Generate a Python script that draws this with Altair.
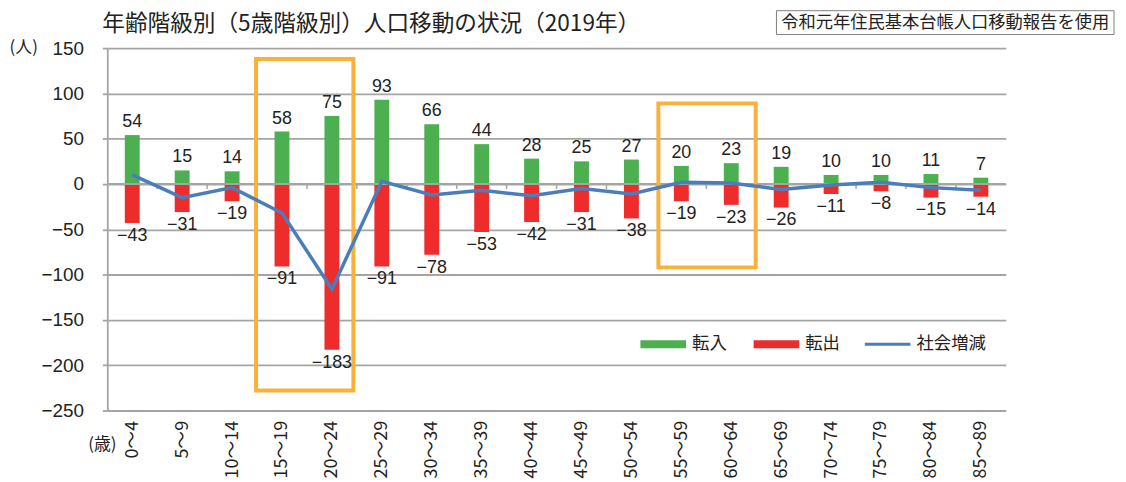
import altair as alt
import pandas as pd

# ---------------- data ----------------
categories = ["0～4", "5～9", "10～14", "15～19", "20～24", "25～29", "30～34", "35～39",
              "40～44", "45～49", "50～54", "55～59", "60～64", "65～69", "70～74",
              "75～79", "80～84", "85～89"]
moved_in = [54, 15, 14, 58, 75, 93, 66, 44, 28, 25, 27, 20, 23, 19, 10, 10, 11, 7]
moved_out = [-43, -31, -19, -91, -183, -91, -78, -53, -42, -31, -38, -19, -23, -26,
             -11, -8, -15, -14]
net_change = [10, -15, -4, -32, -116, 3, -12, -7, -13, -5, -11, 2, 1, -6, -1, 2, -4, -7]
y_ticks = [-250, -200, -150, -100, -50, 0, 50, 100, 150]
series_names = ["転入", "転出", "社会増減"]
series_colors = ["#4CAF50", "#EE2C2C", "#4A7EBB"]
title_text = "年齢階級別（5歳階級別）人口移動の状況（2019年）"
source_note = "令和元年住民基本台帳人口移動報告を使用"
y_unit = "(人)"
x_unit = "(歳)"
# highlight boxes, in category-index and value units
box_left = [2.48, 10.54]
box_right = [4.43, 12.49]
box_top = [138, 89]
box_bottom = [-228, -92]

# ---------------- layout / style ----------------
W, H = 905, 365
GRID = "#A5A5A5"
ORANGE = "#F9B13C"
TXT = "#222222"
CJK = "Noto Sans CJK JP"
NUM = "Liberation Sans"

n = len(categories)
df = pd.DataFrame({"idx": list(range(n)), "cat": categories, "in": moved_in,
                   "out": moved_out, "net": net_change})

label_expr = "[" + ",".join("'" + c + "'" for c in categories) + "][datum.value]"
xscale = alt.Scale(domain=[-0.5, n - 0.5], nice=False, zero=False, padding=0)
yscale = alt.Scale(domain=[-250, 150], nice=False, padding=0)
x_axis = alt.Axis(values=list(range(n)), labelExpr=label_expr, labelAngle=270,
                  labelPadding=10, ticks=False, domain=False, grid=False,
                  labelFont=CJK, labelFontSize=18, labelColor=TXT, labelOverlap=False)
y_axis = alt.Axis(values=y_ticks, format="d", grid=True, gridColor=GRID, gridWidth=1.8,
                  domain=True, domainColor=GRID, domainWidth=1.8, ticks=True, tickSize=5,
                  tickColor=GRID, tickWidth=1.8, labelPadding=19, labelFont=NUM,
                  labelFontSize=19, labelColor=TXT)


def X(field):
    return alt.X(field, scale=xscale, axis=x_axis, title=None)


def Y(field):
    return alt.Y(field, scale=yscale, axis=y_axis, title=None)


base = alt.Chart(df)

bars_in = base.mark_bar(size=15, color=series_colors[0], orient="vertical").encode(
    x=X("idx:Q"), y=Y("in:Q"))
bars_out = base.mark_bar(size=15, color=series_colors[1], orient="vertical").encode(
    x=X("idx:Q"), y=Y("out:Q"))

lab_in = base.mark_text(dy=-13, font=NUM, fontSize=18, color=TXT, baseline="middle").encode(
    x=X("idx:Q"), y=Y("in:Q"), text=alt.Text("in:Q", format="d"))
lab_out = base.mark_text(dy=13, font=NUM, fontSize=18, color=TXT, baseline="middle").encode(
    x=X("idx:Q"), y=Y("out:Q"), text=alt.Text("out:Q", format="d"))

zero_rule = alt.Chart(pd.DataFrame({"v": [0]})).mark_rule(color=GRID, strokeWidth=1.8).encode(
    y=Y("v:Q"), x=alt.value(0), x2=alt.value(W))

tick_df = pd.DataFrame({"b": [k - 0.5 for k in range(1, n)]})
ticks0 = alt.Chart(tick_df).mark_rule(color=GRID, strokeWidth=1.5).encode(
    x=X("b:Q"), y=alt.datum(0), y2=alt.datum(-5.5))

net_line = base.mark_line(color=series_colors[2], strokeWidth=3.5).encode(
    x=X("idx:Q"), y=Y("net:Q"))

box_df = pd.DataFrame({"l": box_left, "r": box_right, "t": box_top, "bt": box_bottom})
boxes = alt.Chart(box_df).mark_rect(fillOpacity=0, stroke=ORANGE, strokeWidth=4).encode(
    x=X("l:Q"), x2="r:Q", y=Y("t:Q"), y2="bt:Q")


def text_layer(txt, x, y, size, align="left", font=CJK):
    return alt.Chart(pd.DataFrame({"t": [txt]})).mark_text(
        align=align, baseline="middle", font=font, fontSize=size, color=TXT).encode(
        x=alt.value(x), y=alt.value(y), text="t:N")


title = text_layer(title_text, -5, -24.7, 22.8)
note_box = alt.Chart(pd.DataFrame({"t": [source_note]})).mark_rect(
    fill="white", stroke="#808080", strokeWidth=1).encode(
    x=alt.value(674), x2=alt.value(1014), y=alt.value(-37.7), y2=alt.value(-13.7))
note = text_layer(source_note, 678.7, -25.7, 17.4)
yunit = text_layer(y_unit, -98.4, 0, 17)
xunit = text_layer(x_unit, -5, 399.3, 17, align="center")

# legend (manual, inside plot)
leg_layers = []
leg_x0 = [537, 651, 763]
leg_len = 46
leg_w = [8, 8, 3]
leg_txt_gap = 6
leg_y = 298.3
for i, name in enumerate(series_names):
    sw = alt.Chart(pd.DataFrame({"s": [name]})).mark_rule(
        color=series_colors[i], strokeWidth=leg_w[i]).encode(
        x=alt.value(leg_x0[i]), x2=alt.value(leg_x0[i] + leg_len), y=alt.value(leg_y))
    leg_layers.append(sw)
    leg_layers.append(text_layer(name, leg_x0[i] + leg_len + leg_txt_gap, leg_y, 17.5))

chart = alt.layer(
    bars_in, bars_out, zero_rule, ticks0, boxes, net_line, lab_in, lab_out,
    title, note_box, note, yunit, xunit, *leg_layers
).properties(
    width=W, height=H,
    padding={"left": 100, "top": 38.7, "right": 113, "bottom": 70.3},
    autosize=alt.AutoSizeParams(type="none"),
).configure_view(stroke=None)

chart.save("out.html", embed_options={"renderer": "svg", "actions": False})
